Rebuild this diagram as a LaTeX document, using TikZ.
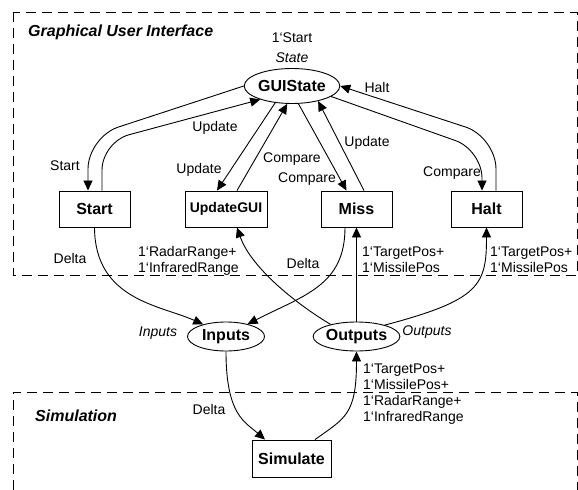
\documentclass[tikz,border=0pt]{standalone}
\usepackage{fontspec}
\setmainfont{Liberation Sans}
\usetikzlibrary{arrows.meta,shapes.geometric}
\begin{document}
\begin{tikzpicture}[x=1bp,y=-1bp,
  txt/.style={font=\fontsize{14bp}{16bp}\selectfont, inner sep=0pt},
  itxt/.style={font=\fontsize{14bp}{16bp}\selectfont\itshape, inner sep=0pt},
  trans/.style={draw, line width=0.9bp, minimum height=36bp, inner sep=0pt,
                font=\fontsize{16bp}{18bp}\selectfont\bfseries},
  place/.style={draw, ellipse, line width=0.9bp, inner sep=0pt,
                font=\fontsize{16bp}{18bp}\selectfont\bfseries},
  arc/.style={line width=0.9bp, -{Triangle[length=10bp,width=9bp]}},
  region/.style={line width=0.9bp, dash pattern=on 10bp off 6bp},
  title/.style={font=\fontsize{16bp}{18bp}\selectfont\bfseries\itshape,
                inner sep=0pt, anchor=west}
]
\useasboundingbox (0,0) rectangle (578,490);

% module boundaries
\draw[region] (13,12) rectangle (577,275.5);
\draw[region] (13,490) -- (13,392) -- (577,392) -- (577,490);
\node[title] (guiTitle) at (28,32) {Graphical User Interface};
\node[title] (simTitle) at (35,416) {Simulation};

% places and transitions
\node[place, minimum width=82bp, minimum height=35bp] (gui) at (292,86) {GUIState};
\node[trans, minimum width=71bp] (start) at (94.5,209) {Start};
\node[trans, minimum width=82bp, font=\fontsize{14bp}{16bp}\selectfont\bfseries] (upd) at (226,209) {UpdateGUI};
\node[trans, minimum width=71bp] (miss) at (356.5,209) {Miss};
\node[trans, minimum width=71bp] (halt) at (486.5,209) {Halt};
\node[place, minimum width=77bp, minimum height=29bp] (inputs) at (226,336.5) {Inputs};
\node[place, minimum width=77bp, minimum height=29bp] (outputs) at (356.5,336.5) {Outputs};
\node[trans, minimum width=79bp, minimum height=37bp] (sim) at (291.5,458.5) {Simulate};

% place inscriptions
\node[txt] (gInit) at (292,38) {1‘Start};
\node[itxt] (gType) at (292,58) {State};
\node[itxt] (inType) at (158,333) {Inputs};
\node[itxt] (outType) at (427,332) {Outputs};

% arcs between GUIState and the GUI transitions
\draw[arc, rounded corners=32bp] (gui.180) -- (88,137) -- ([xshift=-6.5bp]start.north);
\draw[arc, rounded corners=28bp] ([xshift=7.5bp]start.north) -- (102,142) -- (gui.203);
\draw[arc] (gui.225) -- ([xshift=-9bp]upd.north);
\draw[arc] ([xshift=11bp]upd.north) -- (gui.255);
\draw[arc] (gui.290) -- ([xshift=-10bp]miss.north);
\draw[arc] ([xshift=7.5bp]miss.north) -- (gui.330);
\draw[arc, rounded corners=28bp] (gui.345) -- (482,150) -- ([xshift=-4.5bp]halt.north);
\draw[arc, rounded corners=32bp] ([xshift=9.5bp]halt.north) -- (496,137) -- (gui.0);

% arcs to and from the interface places
\draw[arc] (start.south) .. controls (95,300) and (160,305) .. (inputs.152);
\draw[arc] ([xshift=-11.5bp]miss.south) .. controls (345,285) and (305,295) .. (inputs.30);
\draw[arc] (outputs.155) .. controls (290,300) and (250,265) .. ([xshift=11bp]upd.south);
\draw[arc] (outputs.north) -- (miss.south);
\draw[arc] (outputs.22) .. controls (480,300) and (486.5,285) .. (halt.south);
\draw[arc] (inputs.south) .. controls (226,415) and (245,422) .. ([xshift=-26.5bp]sim.north);
\draw[arc] ([xshift=23.5bp]sim.north) .. controls (345,418) and (356.5,415) .. (outputs.south);

% arc inscriptions
\node[txt] (aStart) at (65,166) {Start};
\node[txt] (aUpd1) at (215,128) {Update};
\node[txt] (aUpd2) at (199,170) {Update};
\node[txt] (aCmp1) at (292,159) {Compare};
\node[txt] (aCmp2) at (307,179) {Compare};
\node[txt] (aUpd3) at (367,143) {Update};
\node[txt] (aHalt) at (377,87) {Halt};
\node[txt] (aCmp3) at (452,173) {Compare};
\node[txt] (aDelta1) at (70,258) {Delta};
\node[txt] (aDelta2) at (303,263) {Delta};
\node[txt] (aDelta3) at (209,409) {Delta};
\node[txt, align=left, anchor=west] (aRange) at (138,260.5) {1‘RadarRange+\\1‘InfraredRange};
\node[txt, align=left, anchor=west] (aPos1) at (362,260) {1‘TargetPos+\\1‘MissilePos};
\node[txt, align=left, anchor=west] (aPos2) at (490,260) {1‘TargetPos+\\1‘MissilePos};
\node[txt, align=left, anchor=west] (aAll) at (363,394) {1‘TargetPos+\\1‘MissilePos+\\1‘RadarRange+\\1‘InfraredRange};
\end{tikzpicture}
\end{document}
